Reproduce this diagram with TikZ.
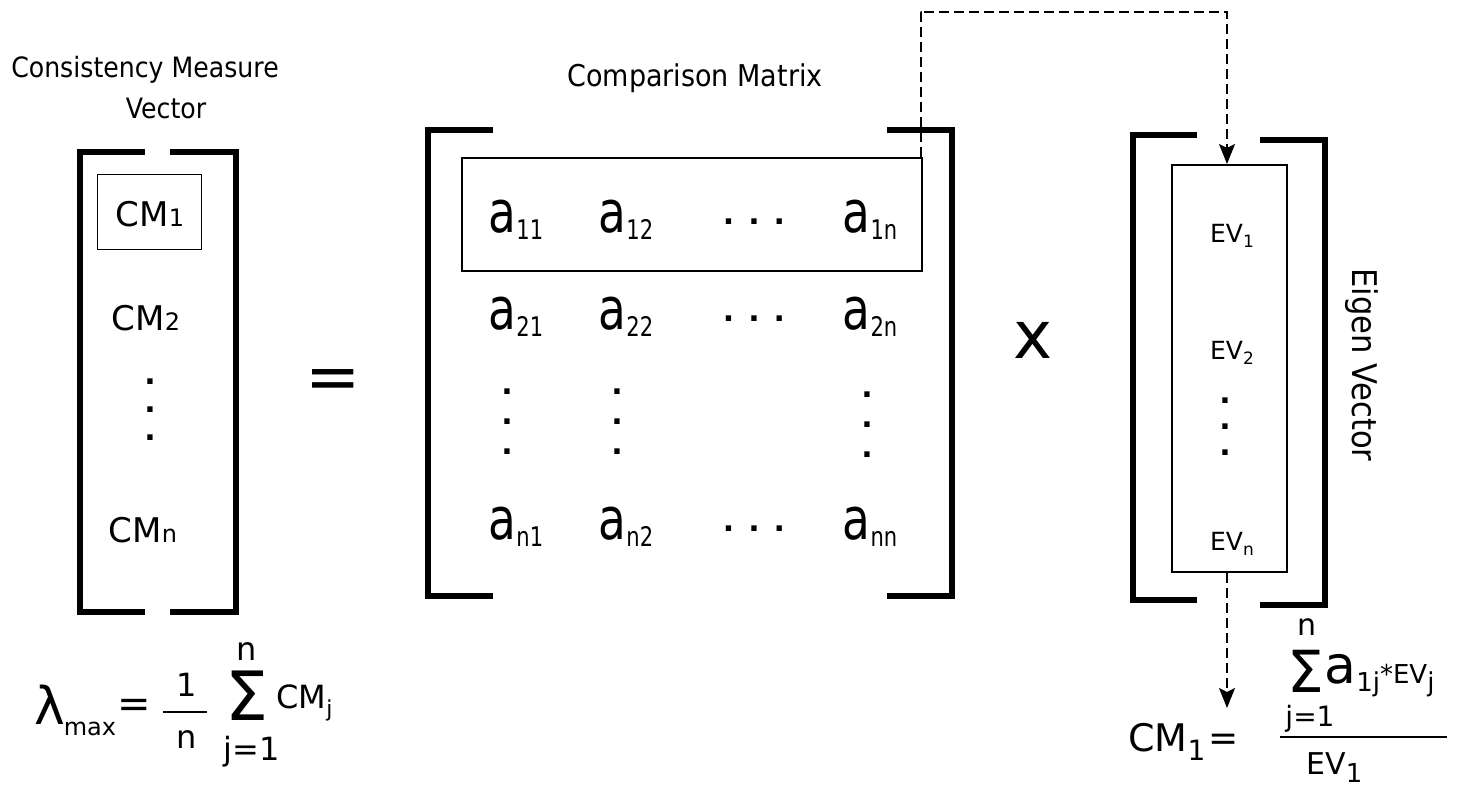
\documentclass[tikz,border=0pt]{standalone}
\usepackage{fontspec}
\setmainfont{DejaVu Sans}
\newfontfamily\condf[FakeStretch=0.78]{DejaVu Sans}
\newfontfamily\titlef[FakeStretch=0.9]{DejaVu Sans}
\usetikzlibrary{arrows.meta}
\newcommand\cmsub[1]{{\fontsize{12}{12}\selectfont #1}}
\newcommand\ent[1]{{\condf\fontsize{29}{29}\selectfont a}\raisebox{-3.5pt}{\condf\fontsize{13.5}{13.5}\selectfont #1}}
\newcommand\evsub[1]{\raisebox{-2.5pt}{\fontsize{8.5}{8.5}\selectfont #1}}
\tikzset{
  br/.style={line width=3pt, line join=miter},
  title/.style={font=\titlef\fontsize{14}{14}\selectfont, inner sep=0},
  cmtext/.style={font=\fontsize{17}{17}\selectfont, inner sep=0},
  evtext/.style={font=\fontsize{12.5}{12.5}\selectfont, inner sep=0},
  entry/.style={inner sep=0},
  hdots/.style={font=\bfseries\fontsize{15}{15}\selectfont, inner sep=0},
  vdots/.style={font=\bfseries\fontsize{15}{14}\selectfont, inner sep=0, align=center},
  dasharrow/.style={dashed, dash pattern=on 5pt off 2.5pt, line width=0.8pt, -{Stealth[length=10pt,width=8pt,inset=2pt]}},
  plain/.style={inner sep=0},
}
\begin{document}
\begin{tikzpicture}[x=0.5pt,y=-0.5pt]
\useasboundingbox (0,0) rectangle (1465,790);
% ---------- left vector ----------
\node[title] (cmt1) at (145,70) {Consistency Measure};
\node[title] (cmt2) at (166,108) {Vector};
\draw[br] (145,152) -- (80,152) -- (80,612) -- (145,612);
\draw[br] (170,152) -- (236,152) -- (236,612) -- (170,612);
\node[draw, line width=0.5pt, minimum width=52pt, minimum height=37.5pt, inner sep=0] (cm1box) at (149,212.5) {};
\node[cmtext] (cm1) at (150,214) {CM\cmsub{1}};
\node[cmtext] (cm2) at (146,318) {CM\cmsub{2}};
\node[vdots] (cmdots) at (150,410) {.\\.\\.};
\node[cmtext] (cmn) at (143,530) {CM\cmsub{n}};
\node[plain, font=\fontsize{33}{33}\selectfont] (eq) at (333,385) {=};
% ---------- comparison matrix ----------
\node[title, font=\titlef\fontsize{15}{15}\selectfont] (cmpt) at (695,78) {Comparison Matrix};
\draw[br] (493,130) -- (428,130) -- (428,596) -- (493,596);
\draw[br] (887,130) -- (952,130) -- (952,596) -- (887,596);
\node[draw, line width=1.2pt, minimum width=230pt, minimum height=56.5pt, inner sep=0] (rowbox) at (692,214.5) {};
\node[entry] (a11) at (516,220) {\ent{11}};
\node[entry] (a12) at (626,220) {\ent{12}};
\node[hdots] (d1) at (754,222) {. . .};
\node[entry] (a1n) at (870,220) {\ent{1n}};
\node[entry] (a21) at (516,317) {\ent{21}};
\node[entry] (a22) at (626,317) {\ent{22}};
\node[hdots] (d2) at (754,319) {. . .};
\node[entry] (a2n) at (870,317) {\ent{2n}};
\node[vdots, font=\bfseries\fontsize{15}{15}\selectfont] (v1) at (507,422) {.\\.\\.};
\node[vdots, font=\bfseries\fontsize{15}{15}\selectfont] (v2) at (617,422) {.\\.\\.};
\node[vdots, font=\bfseries\fontsize{15}{15}\selectfont] (v3) at (867,425) {.\\.\\.};
\node[entry] (an1) at (516,527) {\ent{n1}};
\node[entry] (an2) at (626,527) {\ent{n2}};
\node[hdots] (d3) at (754,529) {. . .};
\node[entry] (ann) at (870,527) {\ent{nn}};
\node[plain, font=\fontsize{33}{33}\selectfont] (times) at (1033,340) {x};
% ---------- eigen vector ----------
\draw[br] (1197,135) -- (1133,135) -- (1133,600) -- (1197,600);
\draw[br] (1260,140) -- (1325,140) -- (1325,605) -- (1260,605);
\node[draw, line width=1pt, minimum width=57.5pt, minimum height=203.5pt, inner sep=0] (evbox) at (1229.5,368.5) {};
\node[evtext] (ev1) at (1232,236) {EV\evsub{1}};
\node[evtext] (ev2) at (1232,353) {EV\evsub{2}};
\node[vdots, font=\bfseries\fontsize{15}{13}\selectfont] (evd) at (1225,427) {.\\.\\.};
\node[evtext] (evn) at (1232,544) {EV\evsub{n}};
\node[rotate=-90, font=\titlef\fontsize{17}{17}\selectfont, inner sep=0] (evt) at (1362,365) {Eigen Vector};
% ---------- dashed arrows ----------
\coordinate (t1) at (920,12);
\coordinate (t2) at (1227,12);
\coordinate (lowend) at (1227,708);
\draw[dasharrow] (rowbox.north east) ++(-2,0) |- (t1) -- (t2) -- (t2 |- evbox.north);
\draw[dasharrow] (evbox.south -| t2) -- (lowend);
% ---------- lambda formula ----------
\node[plain, font=\fontsize{26}{26}\selectfont] (lam) at (50,705) {λ};
\node[plain, font=\fontsize{12}{12}\selectfont] (lmax) at (90,729) {max};
\node[plain, font=\fontsize{20}{20}\selectfont] (leq) at (134,708) {=};
\node[plain, font=\fontsize{16}{16}\selectfont] (lone) at (187,685) {1};
\coordinate (lb1) at (163,712);
\coordinate (lb2) at (207,712);
\draw[line width=0.8pt] (lb1) -- (lb2);
\node[plain, font=\fontsize{16}{16}\selectfont] (ln) at (187,740) {n};
\node[plain, font=\fontsize{34}{34}\selectfont] (lsig) at (247,696) {Σ};
\node[plain, font=\fontsize{16}{16}\selectfont] (lsn) at (247,652) {n};
\node[plain, font=\fontsize{16}{16}\selectfont] (lsj) at (252,752) {j=1};
\node[plain, font=\fontsize{16}{16}\selectfont, anchor=west] (lcm) at (276,703) {CM\raisebox{-4pt}{\fontsize{11}{11}\selectfont j}};
% ---------- CM1 formula ----------
\node[plain, font=\fontsize{19}{19}\selectfont, anchor=west] (rcm) at (1128,742) {CM\raisebox{-4.5pt}{\fontsize{14}{14}\selectfont 1}};
\node[plain, font=\fontsize{18}{18}\selectfont] (req) at (1224,742) {=};
\coordinate (rb1) at (1280,737);
\coordinate (rb2) at (1447,737);
\draw[line width=0.8pt] (rb1) -- (rb2);
\node[plain, font=\fontsize{29}{29}\selectfont] (rsig) at (1306,671) {Σ};
\node[plain, font=\fontsize{15}{15}\selectfont] (rsn) at (1307,627) {n};
\node[plain, font=\fontsize{14}{14}\selectfont] (rsj) at (1310,719) {j=1};
\node[plain, anchor=west] (rterm) at (1324,676) {{\fontsize{26}{26}\selectfont a}\raisebox{-4pt}{\fontsize{13}{13}\selectfont 1j}{\fontsize{13}{13}\selectfont *EV}\raisebox{-4pt}{\fontsize{13}{13}\selectfont j}};
\node[plain, font=\fontsize{15}{15}\selectfont, anchor=west] (rden) at (1306,768) {EV\raisebox{-4pt}{\fontsize{13}{13}\selectfont 1}};
\end{tikzpicture}
\end{document}
